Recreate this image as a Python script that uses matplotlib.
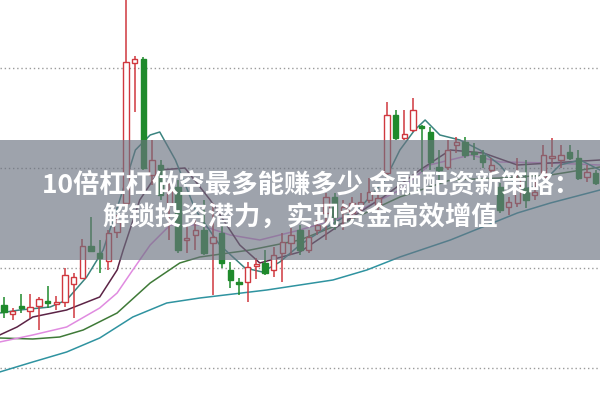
import numpy as np
import matplotlib
matplotlib.use("Agg")
import matplotlib.pyplot as plt

plt.rcParams['font.family'] = ['Noto Sans CJK SC', 'DejaVu Sans']

# candle data (open, close, high, low), one entry per trading day
opens = [1.63, 1.54, 1.62, 1.57, 1.62, 1.67, 1.64, 1.66, 1.84, 1.90,
         2.22, 2.15, 2.07, 2.36, 2.65, 4.05, 4.09, 2.93, 3.03, 2.63,
         2.81, 2.28, 2.33, 2.38, 2.25, 2.35, 1.98, 1.86, 1.86, 2.02,
         2.05, 1.98, 2.15, 2.25, 2.38, 2.18, 2.38, 2.55, 2.71, 2.56,
         2.55, 2.63, 2.68, 2.63, 2.95, 3.53, 3.30, 3.38, 3.42, 3.36,
         3.01, 3.01, 3.23, 3.26, 3.16, 3.13, 2.98, 2.81, 2.61, 2.65,
         2.80, 2.73, 2.91, 3.10, 3.08, 3.16, 3.10, 2.91, 2.95]
closes = [1.56, 1.57, 1.60, 1.61, 1.69, 1.65, 1.66, 1.93, 1.91, 2.22,
          2.17, 2.10, 2.35, 2.46, 4.06, 4.09, 3.00, 3.08, 2.73, 2.78,
          2.18, 2.30, 2.38, 2.15, 2.31, 2.05, 1.88, 1.84, 2.01, 2.04,
          1.95, 2.13, 2.26, 2.33, 2.18, 2.31, 2.43, 2.71, 2.51, 2.61,
          2.65, 2.66, 2.76, 2.70, 3.53, 3.30, 3.34, 3.58, 3.40, 3.06,
          2.98, 3.18, 3.26, 3.13, 3.14, 3.06, 3.03, 2.58, 2.66, 2.90,
          2.68, 2.76, 3.13, 3.12, 3.13, 3.10, 2.90, 2.96, 2.85]
highs = [1.71, 1.60, 1.74, 1.74, 1.71, 1.82, 1.72, 2.00, 1.95, 2.29,
         2.51, 2.28, 2.38, 2.53, 4.73, 4.12, 4.11, 3.28, 3.08, 2.88,
         2.88, 2.43, 2.48, 2.68, 2.65, 2.43, 2.06, 1.90, 2.06, 2.10,
         2.18, 2.21, 2.35, 2.40, 2.43, 2.38, 2.48, 2.75, 2.75, 2.68,
         2.71, 2.75, 2.90, 2.76, 3.66, 3.58, 3.58, 3.70, 3.43, 3.41,
         3.18, 3.28, 3.31, 3.31, 3.25, 3.18, 3.10, 2.85, 2.71, 3.10,
         3.08, 2.88, 3.23, 3.30, 3.23, 3.23, 3.18, 3.03, 2.98]
lows = [1.50, 1.48, 1.55, 1.50, 1.38, 1.60, 1.58, 1.61, 1.50, 1.90,
        2.16, 1.95, 1.98, 2.30, 2.63, 3.56, 2.98, 2.83, 2.68, 2.28,
        2.15, 2.15, 2.18, 2.13, 1.73, 2.00, 1.80, 1.73, 1.66, 1.89,
        1.93, 1.91, 1.86, 2.13, 2.13, 2.15, 2.33, 2.28, 2.38, 2.38,
        2.48, 2.55, 2.65, 2.58, 2.90, 3.28, 3.28, 3.36, 2.96, 2.98,
        2.88, 2.98, 3.15, 3.10, 3.08, 3.00, 2.83, 2.55, 2.53, 2.61,
        2.60, 2.68, 2.90, 3.01, 3.00, 3.08, 2.88, 2.86, 2.83]

# moving average lines (x in candle index)
ma5_x = [-0.5, 1.8, 5.3, 7.2, 9.5, 11.4, 13.3, 15.1, 16.8, 17.9, 19.7, 22.0,
         24.8, 27.7, 29.7, 31.7, 34.0, 37.5, 40.9, 43.8, 45.5, 47.2, 48.4,
         50.1, 52.4, 54.7, 57.0, 59.3, 61.6, 63.9, 66.2, 68.5]
ma5_y = [1.55, 1.58, 1.61, 1.68, 1.91, 2.18, 2.68, 3.18, 3.33, 3.36, 3.08, 2.58,
         2.23, 2.00, 1.96, 2.06, 2.23, 2.43, 2.60, 2.88, 3.18, 3.38, 3.48,
         3.33, 3.28, 3.18, 3.03, 2.78, 2.83, 3.03, 3.08, 2.98]
ma10_x = [-0.5, 1.5, 3.3, 7.2, 11.0, 13.0, 13.7, 15.6, 17.9, 20.8, 23.7, 27.1,
          29.4, 34.0, 38.6, 43.6, 47.8, 51.3, 55.1, 59.0, 62.8, 68.5]
ma10_y = [1.33, 1.41, 1.51, 1.58, 1.71, 1.98, 2.18, 2.68, 2.98, 3.00, 2.68, 2.23,
          2.05, 2.16, 2.43, 2.71, 2.98, 3.18, 3.15, 3.03, 3.05, 3.08]
ma20_x = [-0.5, 3.3, 7.2, 11.0, 13.0, 14.8, 16.8, 19.1, 22.5, 26.0, 29.4, 34.0,
          39.8, 45.5, 48.9, 53.6, 57.0, 62.8, 68.5]
ma20_y = [1.26, 1.33, 1.41, 1.60, 1.75, 1.98, 2.23, 2.43, 2.43, 2.33, 2.28, 2.38,
          2.53, 2.78, 3.03, 3.13, 3.06, 3.05, 3.03]
ma30_x = [-0.5, 3.3, 6.4, 9.1, 13.0, 16.8, 20.2, 22.5, 28.3, 34.0, 39.8, 45.5,
          51.3, 57.0, 62.8, 68.5]
ma30_y = [1.30, 1.29, 1.31, 1.38, 1.55, 1.85, 2.05, 2.11, 2.18, 2.28, 2.48, 2.71,
          2.88, 2.90, 2.93, 3.01]
ma60_x = [-0.5, 3.3, 7.2, 11.0, 14.8, 18.7, 22.5, 30.2, 34.0, 37.8, 41.7, 45.5,
          51.3, 59.0, 62.8, 68.5]
ma60_y = [0.96, 1.06, 1.16, 1.30, 1.51, 1.65, 1.70, 1.78, 1.83, 1.88, 1.98, 2.11,
          2.28, 2.55, 2.65, 2.78]

grid_levels = [1, 2, 3, 4]
title_1 = "10倍杠杠做空最多能赚多少 金融配资新策略："
title_2 = "解锁投资潜力，实现资金高效增值"

up_color = "#d0383f"
down_color = "#1f8a2c"

fig = plt.figure(figsize=(6, 4.01), dpi=100)
ax = fig.add_axes([0, 0, 1, 1])
ax.set_xlim(-0.46, 68.5)
ax.set_ylim(0.67, 4.68)
ax.axis("off")

for lv in grid_levels:
    ax.axhline(lv, color="#9a9a9a", linestyle=(0, (1, 2)), linewidth=1.0, zorder=0)

ax.plot(ma60_x, ma60_y, color="#2f93a0", lw=1.1, zorder=1)
ax.plot(ma30_x, ma30_y, color="#3f7a38", lw=1.1, zorder=1)
ax.plot(ma20_x, ma20_y, color="#e08be0", lw=1.1, zorder=1)
ax.plot(ma10_x, ma10_y, color="#5c2446", lw=1.1, zorder=1)
ax.plot(ma5_x, ma5_y, color="#3a8480", lw=1.1, zorder=1)

o = np.array(opens)
c = np.array(closes)
h = np.array(highs)
l = np.array(lows)
idx = np.arange(len(o))
up = c >= o
cols = np.where(up, up_color, down_color)

ax.vlines(idx, l, h, colors=cols, linewidth=1.1, zorder=2)
bottoms = np.minimum(o, c)
heights = np.maximum(np.abs(c - o), 0.015)
ax.bar(idx, heights, bottom=bottoms, width=0.62,
       color=np.where(up, "white", down_color), edgecolor=cols,
       linewidth=1.0, zorder=3)

# translucent banner with headline
ax.axhspan(2.08, 3.28, color="#6b7280", alpha=0.65, lw=0, zorder=5)
fig.text(0.518, 0.539, title_1, color="white", fontsize=19, fontweight="bold",
         ha="center", va="center", zorder=6)
fig.text(0.5, 0.456, title_2, color="white", fontsize=19, fontweight="bold",
         ha="center", va="center", zorder=6)

fig.savefig("out.png", dpi=100)
